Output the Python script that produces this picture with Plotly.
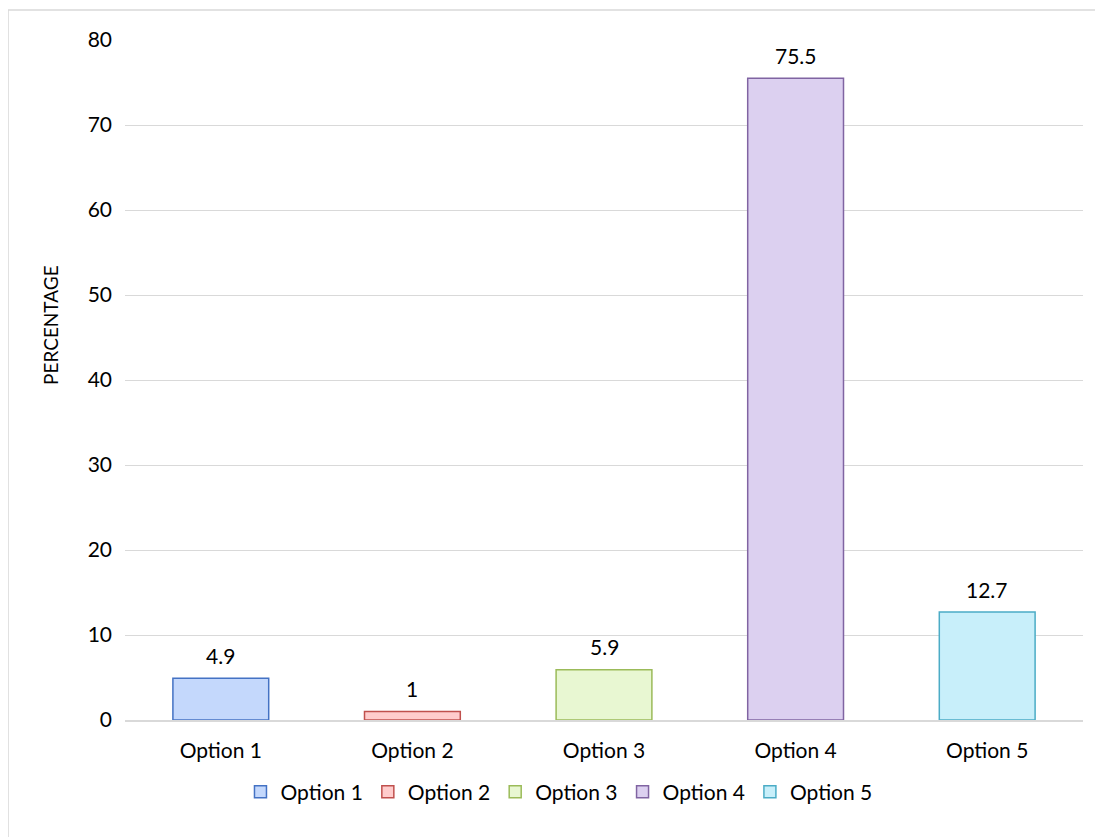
import plotly.graph_objects as go

categories = ["Option 1", "Option 2", "Option 3", "Option 4", "Option 5"]
values = [4.9, 1, 5.9, 75.5, 12.7]
value_labels = ["4.9", "1", "5.9", "75.5", "12.7"]
fill_colors = ["#c4d8fc", "#ffcccc", "#e8f7d2", "#dcd0f0", "#c8effa"]
line_colors = ["#4472c4", "#c0504d", "#9bbb59", "#8064a2", "#4bacc6"]
y_ticks = [0, 10, 20, 30, 40, 50, 60, 70, 80]
y_title = "PERCENTAGE"

FONT = "Lato"

fig = go.Figure()
for cat, val, fc, lc in zip(categories, values, fill_colors, line_colors):
    fig.add_trace(go.Bar(
        x=[cat], y=[val], name=cat, width=0.5,
        marker=dict(color=fc, line=dict(color=lc, width=1.5)),
    ))

for cat, val, lab in zip(categories, values, value_labels):
    fig.add_annotation(x=cat, y=val, text=lab, showarrow=False,
                       yshift=23, font=dict(family=FONT, size=21, color="#000000"))

# y-axis title placed as annotation (it sits above the plot centre in the reference)
fig.add_annotation(xref="paper", yref="paper", x=-0.0772, y=0.581, text=y_title,
                   textangle=-90, showarrow=False, xanchor="center", yanchor="middle",
                   font=dict(family=FONT, size=19, color="#000000"))

fig.add_shape(type="rect", xref="paper", yref="paper",
              x0=-0.1221, x1=1.1, y0=-0.3, y1=1.0441,
              line=dict(color="#d9d9d9", width=1.5), fillcolor="rgba(0,0,0,0)", layer="below")

fig.update_layout(
    width=1103, height=837,
    margin=dict(l=117, r=28, t=32, b=125),
    paper_bgcolor="white", plot_bgcolor="white",
    barmode="overlay",
    font=dict(family=FONT, size=21, color="#000000"),
    showlegend=True,
    legend=dict(orientation="h", x=0.453, xanchor="center", y=-0.106, yanchor="middle",
                font=dict(family=FONT, size=21), itemwidth=30, tracegroupgap=0),
    xaxis=dict(showgrid=False, showline=True, linecolor="#d9d9d9", linewidth=1.5,
               ticks="", ticklabelstandoff=11, tickfont=dict(family=FONT, size=21)),
    yaxis=dict(range=[0, 80], tickvals=y_ticks, showgrid=True, gridcolor="#d9d9d9",
               gridwidth=1, zeroline=False, showline=False, ticks="",
               ticklabelstandoff=12,
               tickfont=dict(family=FONT, size=21)),
)

fig.write_html("out.html")
